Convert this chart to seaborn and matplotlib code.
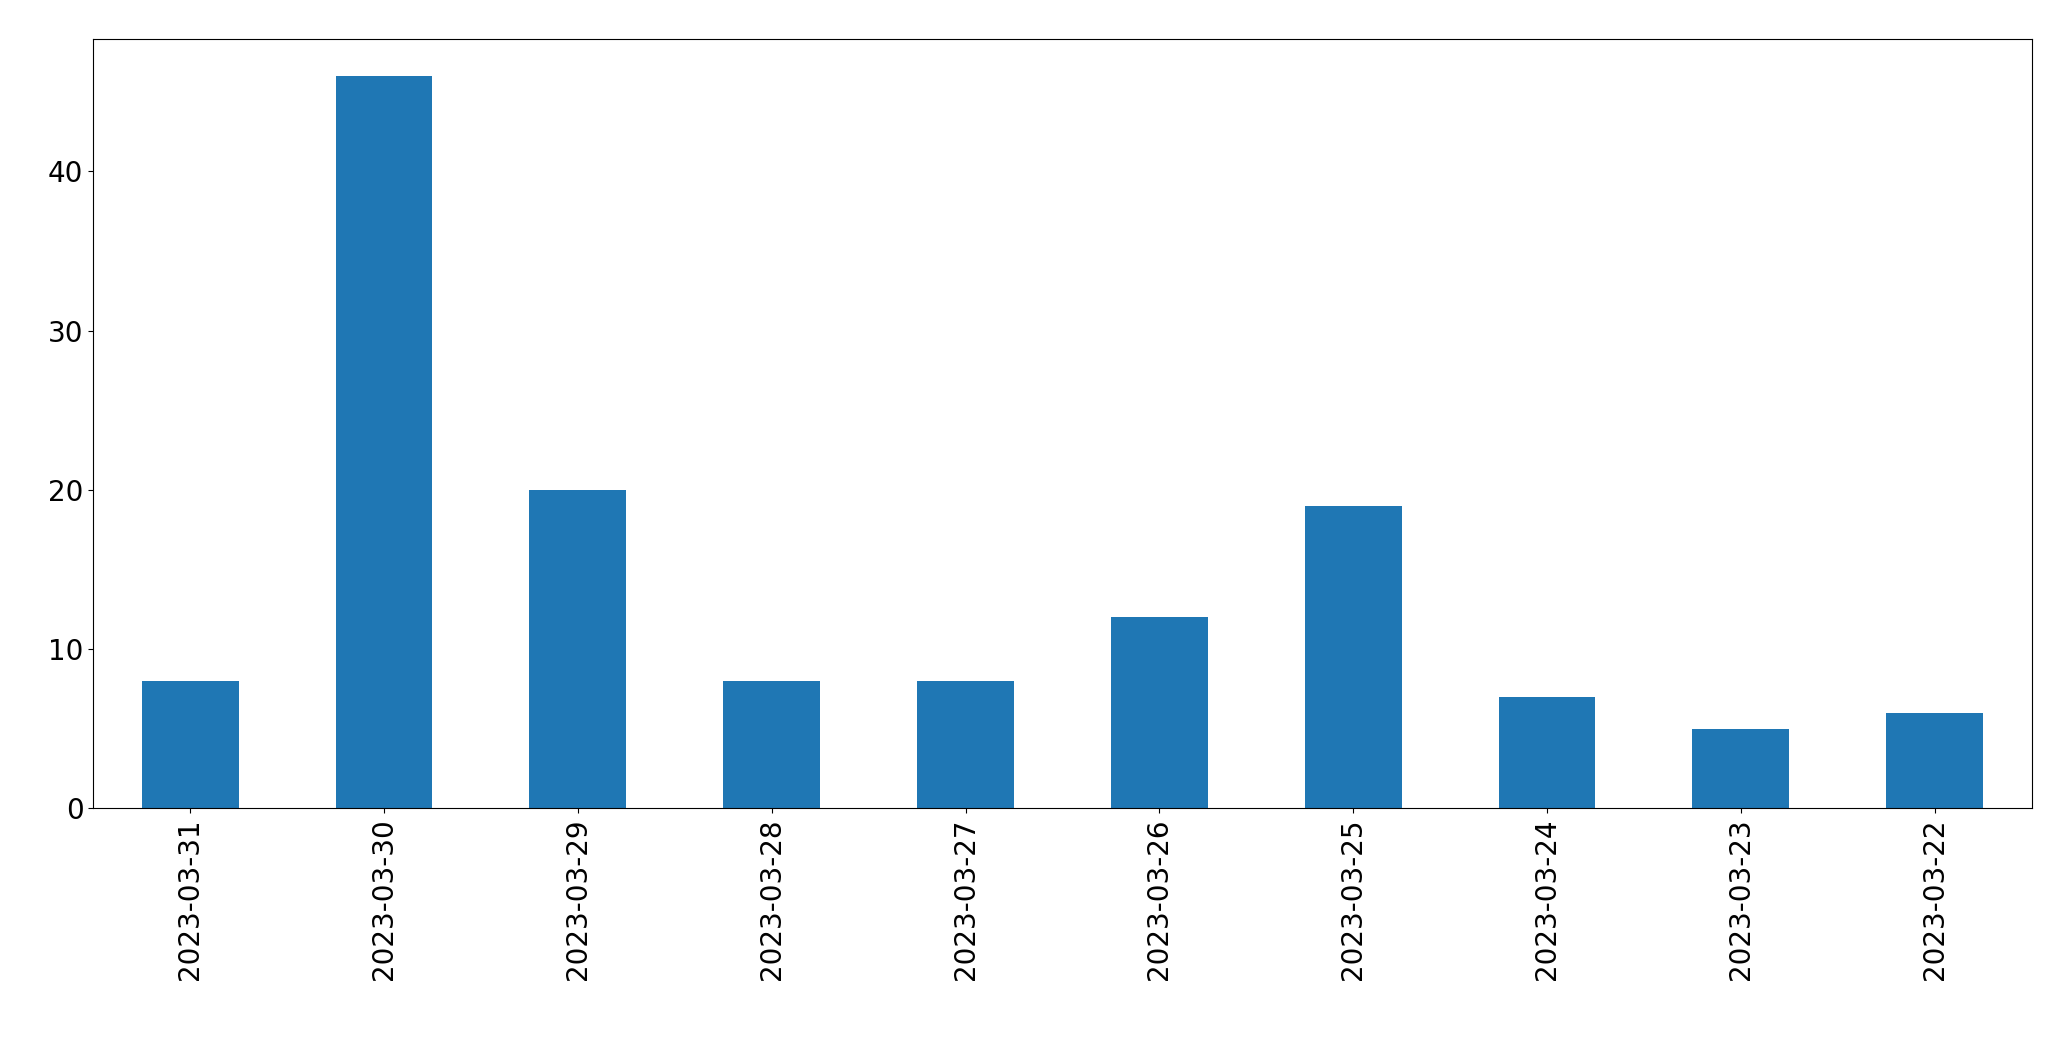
import matplotlib
matplotlib.use("Agg")
import matplotlib.pyplot as plt
import seaborn as sns
import pandas as pd

dates = ["2023-03-31","2023-03-30","2023-03-29","2023-03-28","2023-03-27",
         "2023-03-26","2023-03-25","2023-03-24","2023-03-23","2023-03-22"]
counts = [8, 46, 20, 8, 8, 12, 19, 7, 5, 6]

df = pd.DataFrame({"date": dates, "count": counts})
fig = plt.figure(figsize=(20.71, 10.61), dpi=100)
ax = fig.add_axes([0.045, 0.238, 0.936, 0.725])
sns.barplot(data=df, x="date", y="count", color="#1f77b4", saturation=1, width=0.5, ax=ax)
ax.set_xlabel("")
ax.set_ylabel("")
ax.set_xlim(-0.5, len(dates) - 0.5)
ax.set_ylim(0, 48.3)
ax.set_yticks([0, 10, 20, 30, 40])
ax.tick_params(axis="both", labelsize=20)
plt.setp(ax.get_xticklabels(), rotation=90)
fig.savefig("out.png", dpi=100)
